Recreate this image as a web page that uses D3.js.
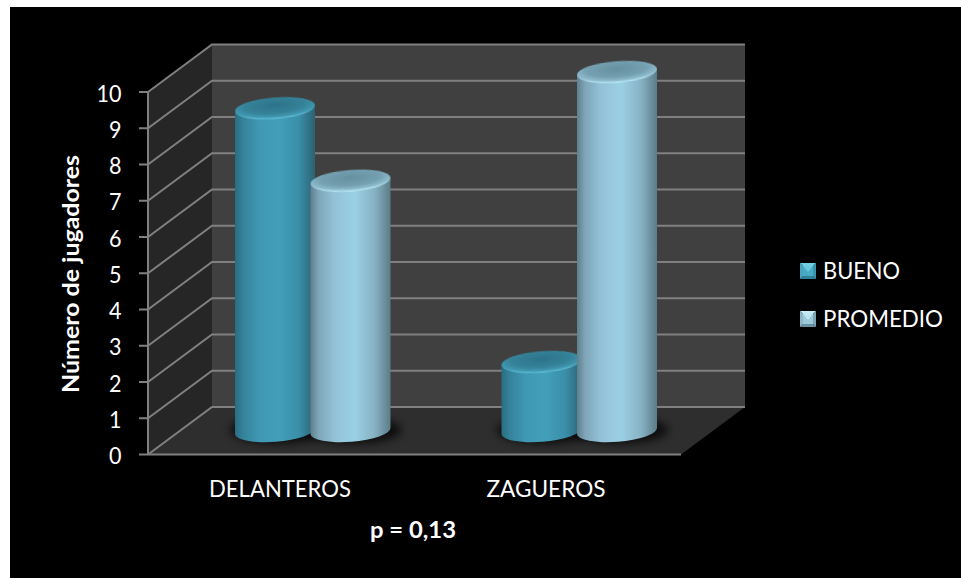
<!DOCTYPE html>
<html lang="es">
<head>
<meta charset="utf-8">
<script src="https://cdn.jsdelivr.net/npm/d3@7"></script>
<style>
  html, body { margin: 0; padding: 0; background: #fff; }
  svg { display: block; }
  text { font-family: Lato, "Open Sans", sans-serif; fill: #fff; }
</style>
</head>
<body>
<svg id="chart" width="961" height="578"></svg>
<script>
// Chart content
const categories = ["DELANTEROS", "ZAGUEROS"];
const seriesNames = ["BUENO", "PROMEDIO"];
const bueno = [9, 2];
const promedio = [7, 10];
const yTicks = [0, 1, 2, 3, 4, 5, 6, 7, 8, 9, 10];
const yTitle = "Número de jugadores";
const note = "p = 0,13";

const width = 961, height = 578;
const svg = d3.select("#chart");
const defs = svg.append("defs");

// Projection of the box: front plane, and the back wall shifted up and to the right
const depthX = 64, depthY = -47.5;
const yFront = d3.scaleLinear().domain([0, 10]).range([454.5, 92]);
const yBack = v => yFront(v) + depthY;
const xFront = d3.scaleLinear().domain([0, 1]).range([148, 681]);

// Cylinders stand midway in the box depth
const yBar = d3.scaleLinear().domain([0, 10]).range([434.5, 72]);
const xCat = d3.scaleBand().domain(categories).range([209.5, 742.5]);
const xSeries = d3.scaleBand().domain(seriesNames).range([28.75, 179.75]);
const barRx = 40, barRy = 10.8, barTilt = -4.5;

const palette = {
  BUENO: {
    stops: [[0, "#2a6d80"], [0.1, "#35829a"], [0.3, "#3f98b4"], [0.55, "#429fba"], [0.8, "#3a8ea8"], [1, "#2a6273"]],
    capDark: "#2c7389", capMid: "#358298", capRim: "#3f97b0", lip: "#62c0d8", swatch: ["#6fd0e4", "#2f8199", "#4aa5bf", "#3c93ad", "#48aac5"]
  },
  PROMEDIO: {
    stops: [[0, "#5f7f8d"], [0.1, "#7fa5b8"], [0.3, "#93c2d8"], [0.55, "#9bd0e4"], [0.8, "#87b2c4"], [1, "#5c7c88"]],
    capDark: "#66909f", capMid: "#74a0b1", capRim: "#8fbccd", lip: "#bdecf8", swatch: ["#c5ecf5", "#6b929f", "#8db7c7", "#7da5b5", "#9ccadb"]
  }
};

seriesNames.forEach(name => {
  const p = palette[name];
  const g = defs.append("linearGradient").attr("id", "body-" + name);
  p.stops.forEach(s => g.append("stop").attr("offset", s[0]).attr("stop-color", s[1]));
  // Cap shading: dark centre, lighter rim that peaks at the near edge
  const c = defs.append("radialGradient").attr("id", "cap-" + name)
    .attr("cx", 0.5).attr("cy", 0.36).attr("r", 0.68);
  c.append("stop").attr("offset", 0).attr("stop-color", p.capDark);
  c.append("stop").attr("offset", 0.55).attr("stop-color", p.capMid);
  c.append("stop").attr("offset", 0.78).attr("stop-color", p.capRim);
  c.append("stop").attr("offset", 0.92).attr("stop-color", p.lip);
  c.append("stop").attr("offset", 1).attr("stop-color", p.stops[3][1]);
});
defs.append("filter").attr("id", "soft").attr("x", "-30%").attr("y", "-60%").attr("width", "160%").attr("height", "220%")
  .append("feGaussianBlur").attr("stdDeviation", 4);
defs.append("filter").attr("id", "fine").append("feGaussianBlur").attr("stdDeviation", 0.5);

// Background panel
svg.append("rect").attr("x", 10).attr("y", 7).attr("width", width - 10).attr("height", height - 7).attr("fill", "#000");

// Walls and floor of the box
const poly = pts => pts.map(p => p.join(",")).join(" ");
const x0 = xFront(0), x1 = xFront(1);
svg.append("polygon").attr("fill", "#262626")
  .attr("points", poly([[x0, yFront(0)], [x0, yFront(10)], [x0 + depthX, yBack(10)], [x0 + depthX, yBack(0)]]));
svg.append("polygon").attr("fill", "#404040")
  .attr("points", poly([[x0 + depthX, yBack(0)], [x0 + depthX, yBack(10)], [x1 + depthX, yBack(10)], [x1 + depthX, yBack(0)]]));
svg.append("polygon").attr("fill", "#2e2e2e")
  .attr("points", poly([[x0, yFront(0)], [x0 + depthX, yBack(0)], [x1 + depthX, yBack(0)], [x1, yFront(0)]]));

// Gridlines wrap from the side wall onto the back wall
const gridColor = "#808080";
const grid = svg.append("g").attr("fill", "none").attr("stroke", gridColor).attr("stroke-width", 2);
grid.selectAll("polyline").data(yTicks).join("polyline")
  .attr("points", d => poly([[x0, yFront(d)], [x0 + depthX, yBack(d)], [x1 + depthX, yBack(d)]]));

// Front edges of the box and value ticks
grid.append("line").attr("x1", x0).attr("x2", x0).attr("y1", yFront(0)).attr("y2", yFront(10));
grid.append("line").attr("x1", x0).attr("x2", x1).attr("y1", yFront(0)).attr("y2", yFront(0));
grid.selectAll("line.tick").data(yTicks).join("line").attr("class", "tick")
  .attr("x1", x0 - 9).attr("x2", x0).attr("y1", d => yFront(d)).attr("y2", d => yFront(d));

// Cylinders
const rows = categories.flatMap((c, i) => [
  { cat: c, name: seriesNames[0], value: bueno[i] },
  { cat: c, name: seriesNames[1], value: promedio[i] }
]);
const cx = d => xCat(d.cat) + xSeries(d.name) + xSeries.bandwidth() / 2 - 1;
const baseY = yBar(0) - 3.5;

// Contact shadows go down first so that they sit under every cylinder
svg.append("g").selectAll("ellipse").data(rows).join("ellipse")
  .attr("cx", d => cx(d) + 3).attr("cy", baseY - 1)
  .attr("rx", barRx + 8).attr("ry", barRy + 3)
  .attr("fill", "#000").attr("opacity", 0.7).attr("filter", "url(#soft)");

const bars = svg.append("g").selectAll("g").data(rows).join("g")
  .attr("transform", d => `translate(${cx(d)},0)`);

// Body: sides follow the tilted base ellipse and top ellipse
const tilt = barTilt * Math.PI / 180;
const dy = barRx * Math.sin(tilt);
bars.append("path")
  .attr("fill", d => `url(#body-${d.name})`)
  .attr("d", d => {
    const t = yBar(d.value);
    return `M${-barRx},${t - dy} L${barRx},${t + dy} L${barRx},${baseY + dy}` +
      `A${barRx},${barRy} ${barTilt} 0 1 ${-barRx},${baseY - dy} Z`;
  });
bars.append("ellipse")
  .attr("rx", barRx).attr("ry", barRy)
  .attr("transform", d => `translate(0,${yBar(d.value)}) rotate(${barTilt})`)
  .attr("fill", d => `url(#cap-${d.name})`)
  .attr("filter", "url(#fine)");

// Value labels
svg.append("g").attr("text-anchor", "end").attr("font-size", 23)
  .selectAll("text").data(yTicks).join("text")
  .attr("x", 121.5).attr("y", d => yFront(d) + 9.5)
  .attr("textLength", d => d === 10 ? 25 : 12.5).attr("lengthAdjust", "spacingAndGlyphs")
  .text(d => d);

// Category labels
svg.append("g").attr("text-anchor", "middle").attr("font-size", 23)
  .selectAll("text").data(categories).join("text")
  .attr("x", (d, i) => [280, 546][i]).attr("y", 497)
  .attr("textLength", (d, i) => [142, 119][i]).attr("lengthAdjust", "spacingAndGlyphs")
  .text(d => d);

// Axis title and note
svg.append("text").attr("transform", "translate(78.5,274) rotate(-90)")
  .attr("text-anchor", "middle").attr("font-size", 23).attr("font-weight", 700)
  .attr("textLength", 238).attr("lengthAdjust", "spacingAndGlyphs")
  .text(yTitle);
svg.append("text").attr("x", 413).attr("y", 538)
  .attr("text-anchor", "middle").attr("font-size", 23).attr("font-weight", 700)
  .attr("textLength", 86).attr("lengthAdjust", "spacingAndGlyphs")
  .text(note);

// Legend with bevelled swatches
const legend = svg.append("g").selectAll("g").data(seriesNames).join("g")
  .attr("transform", (d, i) => `translate(800,${263 + i * 48})`);
const s = 16, m = 3;
const facets = [
  [[0, 0], [s, 0], [s - m, m], [m, m]],
  [[0, s], [s, s], [s - m, s - m], [m, s - m]],
  [[0, 0], [m, m], [m, s - m], [0, s]],
  [[s, 0], [s - m, m], [s - m, s - m], [s, s]],
  [[m, m], [s - m, m], [s - m, s - m], [m, s - m]]
];
legend.each(function (name) {
  d3.select(this).selectAll("polygon").data(facets).join("polygon")
    .attr("points", poly)
    .attr("fill", (f, i) => palette[name].swatch[i]);
  d3.select(this).append("polygon")
    .attr("points", poly([[m, m], [s - m, m], [s / 2, s / 2 + 1]]))
    .attr("fill", palette[name].swatch[0]).attr("opacity", 0.8);
});
legend.append("text").attr("x", 23).attr("y", 15.5).attr("font-size", 23)
  .attr("textLength", (d, i) => [77, 120][i]).attr("lengthAdjust", "spacingAndGlyphs")
  .text(d => d);
</script>
</body>
</html>
